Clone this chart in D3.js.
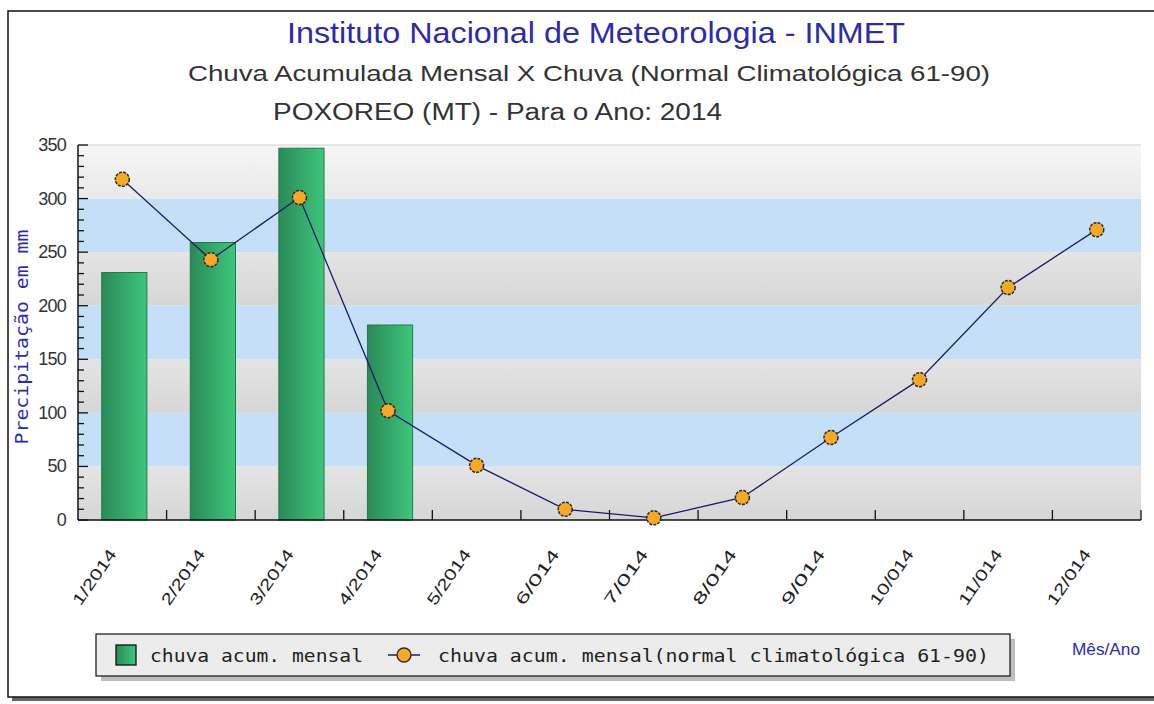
<!DOCTYPE html>
<html><head><meta charset="utf-8">
<script src="https://cdn.jsdelivr.net/npm/d3@7"></script>
<style>body{margin:0;background:#fff}svg{display:block}</style>
</head><body><svg id="c" width="1154" height="704"></svg>
<script>
const categories = ["1/2014","2/2014","3/2014","4/2014","5/2014","6/014","7/014","8/014","9/014","10/014","11/014","12/014"];
const monthly = [231, 259, 347, 182, null, null, null, null, null, null, null, null];
const normal = [318, 243, 301, 102, 51, 10, 2, 21, 77, 131, 217, 271];
const yTicks = [0, 50, 100, 150, 200, 250, 300, 350];
const stripes = [[0,50,"g"],[50,100,"b"],[100,150,"g"],[150,200,"b"],[200,250,"g"],[250,300,"b"],[300,350,"t"]];

const svg = d3.select("#c");
const defs = svg.append("defs");
const bg = defs.append("linearGradient").attr("id","barg").attr("x1","0").attr("x2","1").attr("y1","0").attr("y2","0");
bg.append("stop").attr("offset","0").attr("stop-color","#2a8a57");
bg.append("stop").attr("offset","1").attr("stop-color","#3ec67b");
const gg = defs.append("linearGradient").attr("id","grayg").attr("x1","0").attr("x2","0").attr("y1","0").attr("y2","1");
gg.append("stop").attr("offset","0").attr("stop-color","#e4e4e4");
gg.append("stop").attr("offset","1").attr("stop-color","#d6d6d6");
const tg = defs.append("linearGradient").attr("id","topg").attr("x1","0").attr("x2","0").attr("y1","0").attr("y2","1");
tg.append("stop").attr("offset","0").attr("stop-color","#f6f6f6");
tg.append("stop").attr("offset","1").attr("stop-color","#e9e9e9");

// outer frame with shadow
svg.append("rect").attr("x",12).attr("y",15).attr("width",1150).attr("height",686).attr("fill","#666");
svg.append("rect").attr("x",8).attr("y",11).attr("width",1150).attr("height",686).attr("fill","#fff").attr("stroke","#111").attr("stroke-width",1.5);

const L = 78, R = 1141, T = 145, B = 520;
const x = d3.scaleBand().domain(categories).range([L, R]);
const y = d3.scaleLinear().domain([0, 350]).range([B, T]);

// stripes
svg.append("g").selectAll("rect").data(stripes).join("rect")
  .attr("x", L).attr("width", R - L)
  .attr("y", d => y(d[1])).attr("height", d => y(d[0]) - y(d[1]))
  .attr("fill", d => d[2] === "b" ? "#c5dff8" : d[2] === "t" ? "url(#topg)" : "url(#grayg)");
svg.append("line").attr("x1",L).attr("x2",R).attr("y1",T).attr("y2",T).attr("stroke","#d0d0d0");

// bars
const bw = x.bandwidth() * 0.51;
svg.append("g").selectAll("rect").data(categories.map((c,i)=>({c,v:monthly[i]})).filter(d=>d.v!=null)).join("rect")
  .attr("x", d => x(d.c) + x.bandwidth()/2 - bw/2 + 2).attr("width", bw)
  .attr("y", d => y(d.v)).attr("height", d => B - y(d.v))
  .attr("fill","url(#barg)").attr("stroke","#237a4a").attr("stroke-width",1);

// y axis
const ya = svg.append("g").attr("transform",`translate(${L},0)`);
ya.append("line").attr("x1",0).attr("x2",0).attr("y1",T).attr("y2",B).attr("stroke","#111").attr("stroke-width",1.5);
ya.selectAll("line.t").data(d3.range(0,351,10)).join("line").attr("class","t")
  .attr("x1",0).attr("x2", d => d % 50 === 0 ? 10 : 6)
  .attr("y1", d => y(d)).attr("y2", d => y(d)).attr("stroke","#111").attr("stroke-width",1.3);
ya.selectAll("text").data(yTicks).join("text")
  .attr("x",-12).attr("y", d => y(d) + 6).attr("text-anchor","end")
  .attr("font-family","Liberation Sans, Arial, sans-serif").attr("font-size",18).attr("fill","#333")
  .attr("letter-spacing","-0.8")
  .text(d => d);

// x axis
const xa = svg.append("g");
xa.append("line").attr("x1",L).attr("x2",R).attr("y1",B).attr("y2",B).attr("stroke","#111").attr("stroke-width",1.5);
xa.selectAll("line.t").data(categories.slice(1).concat(["end"])).join("line").attr("class","t")
  .attr("x1", (d,i) => L + (i+1)*x.bandwidth()).attr("x2", (d,i) => L + (i+1)*x.bandwidth())
  .attr("y1",B).attr("y2",B-10).attr("stroke","#111").attr("stroke-width",1.3);
xa.selectAll("text").data(categories).join("text")
  .attr("transform", d => `translate(${x(d)+x.bandwidth()/2 - 5},${B+34}) rotate(-55)`)
  .attr("text-anchor","end").attr("font-family","Liberation Sans, Arial, sans-serif")
  .attr("font-size",16).attr("fill","#222")
  .attr("textLength",64).attr("lengthAdjust","spacingAndGlyphs").text(d => d);

// line
const cx = d => x(d) + x.bandwidth()/2;
const pts = categories.map((c,i)=>({c,v:normal[i]}));
svg.append("path").datum(pts).attr("fill","none").attr("stroke","#1c1c6e").attr("stroke-width",1.3)
  .attr("d", d3.line().x(d=>cx(d.c)).y(d=>y(d.v)));
svg.append("g").selectAll("circle").data(pts).join("circle")
  .attr("cx", d=>cx(d.c)).attr("cy", d=>y(d.v)).attr("r",7)
  .attr("fill","#f7a825").attr("stroke","#2a2a2a").attr("stroke-width",1.5).attr("stroke-dasharray","3,1.2");

// titles
svg.append("text").attr("x",287).attr("y",43)
  .attr("font-family","Liberation Sans, Arial, sans-serif").attr("font-size",29).attr("fill","#2b2bb0")
  .attr("textLength",618).attr("lengthAdjust","spacingAndGlyphs")
  .text("Instituto Nacional de Meteorologia - INMET");
svg.append("text").attr("x",188).attr("y",81)
  .attr("font-family","Liberation Sans, Arial, sans-serif").attr("font-size",22).attr("fill","#333")
  .attr("textLength",802).attr("lengthAdjust","spacingAndGlyphs")
  .text("Chuva Acumulada Mensal X Chuva (Normal Climatológica 61-90)");
svg.append("text").attr("x",273).attr("y",120)
  .attr("font-family","Liberation Sans, Arial, sans-serif").attr("font-size",23).attr("fill","#333")
  .attr("textLength",449).attr("lengthAdjust","spacingAndGlyphs")
  .text("POXOREO (MT) - Para o Ano: 2014");

// y title
svg.append("text").attr("transform","translate(28,337) rotate(-90)").attr("text-anchor","middle")
  .attr("font-family","DejaVu Sans Mono, monospace").attr("font-size",17).attr("fill","#2b2bb0")
  .attr("textLength",215).attr("lengthAdjust","spacingAndGlyphs")
  .text("Precipitação em mm");

// x title
svg.append("text").attr("x",1072).attr("y",655)
  .attr("font-family","Liberation Sans, Arial, sans-serif").attr("font-size",17).attr("fill","#2b2bb0")
  .attr("textLength",68).attr("lengthAdjust","spacingAndGlyphs").text("Mês/Ano");

// legend
const lg = svg.append("g");
lg.append("rect").attr("x",101).attr("y",639).attr("width",914).attr("height",42).attr("fill","#bdbdbd");
lg.append("rect").attr("x",96).attr("y",634).attr("width",914).attr("height",42).attr("fill","#ececec").attr("stroke","#222").attr("stroke-width",1.3);
lg.append("rect").attr("x",116).attr("y",645).attr("width",20).attr("height",20).attr("fill","url(#barg)").attr("stroke","#111").attr("stroke-width",1.3);
lg.append("text").attr("x",150).attr("y",662).attr("font-family","DejaVu Sans Mono, monospace").attr("font-size",18).attr("fill","#222")
  .attr("textLength",213).attr("lengthAdjust","spacingAndGlyphs").text("chuva acum. mensal");
lg.append("line").attr("x1",388).attr("x2",420).attr("y1",655).attr("y2",655).attr("stroke","#1c1c6e").attr("stroke-width",1.5);
lg.append("circle").attr("cx",404).attr("cy",655).attr("r",7).attr("fill","#f7a825").attr("stroke","#2a2a2a").attr("stroke-width",1.3);
lg.append("text").attr("x",438).attr("y",662).attr("font-family","DejaVu Sans Mono, monospace").attr("font-size",18).attr("fill","#222")
  .attr("textLength",551).attr("lengthAdjust","spacingAndGlyphs").text("chuva acum. mensal(normal climatológica 61-90)");
</script></body></html>
